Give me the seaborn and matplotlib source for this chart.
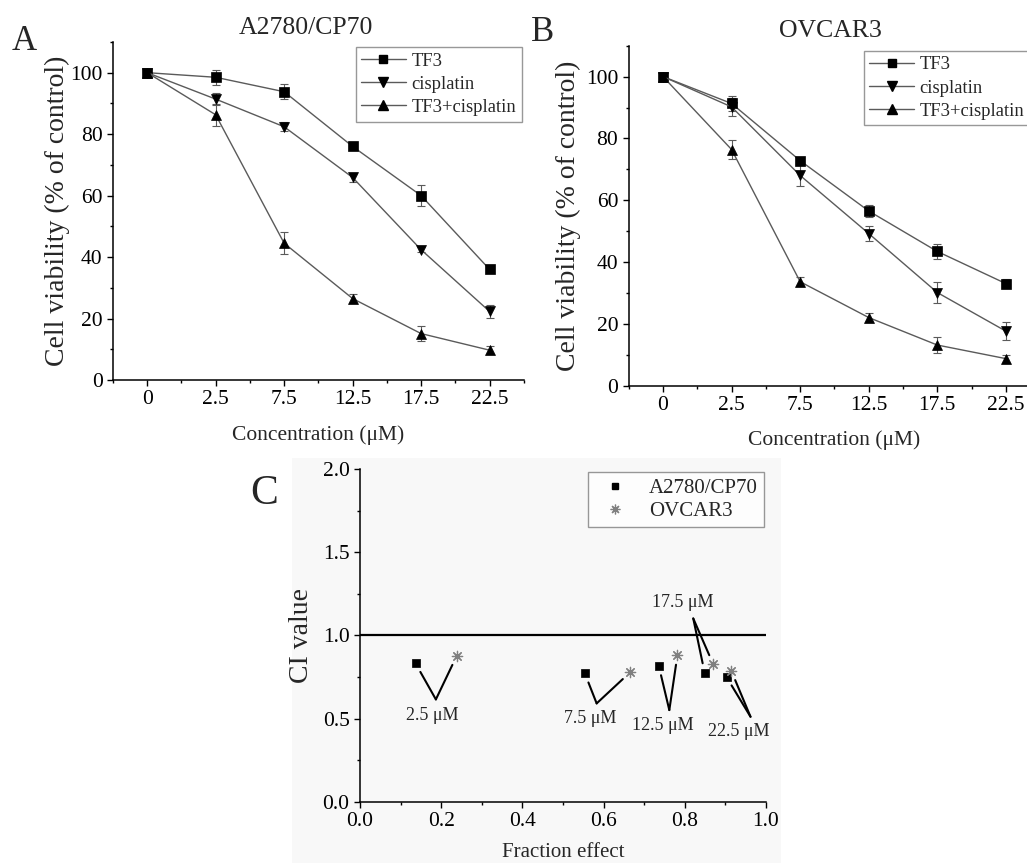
import numpy as np
import pandas as pd
import matplotlib
matplotlib.use("Agg")
import matplotlib.pyplot as plt
from matplotlib.patches import Rectangle
from matplotlib.ticker import MultipleLocator
from matplotlib.lines import Line2D
import seaborn as sns

# x categories (uM) and treatments
concentrations = ["0", "2.5", "7.5", "12.5", "17.5", "22.5"]
treatments = ["TF3", "cisplatin", "TF3+cisplatin"]

# A2780/CP70 viability (% of control) and error bars
a2780_tf3 = [100, 98.5, 93.8, 76.0, 60.0, 36.0]
a2780_tf3_err = [0.8, 2.5, 2.5, 0.8, 3.5, 0.8]
a2780_cis = [100, 91.4, 82.4, 65.9, 42.4, 22.3]
a2780_cis_err = [0.8, 2.0, 1.5, 1.5, 0.8, 2.0]
a2780_combo = [100, 86.3, 44.5, 26.5, 15.1, 9.7]
a2780_combo_err = [0.8, 3.5, 3.5, 1.5, 2.5, 1.3]

# OVCAR3 viability (% of control) and error bars
ovcar3_tf3 = [100, 91.3, 72.8, 56.5, 43.4, 33.0]
ovcar3_tf3_err = [0.8, 2.5, 1.0, 2.0, 2.3, 1.5]
ovcar3_cis = [100, 90.2, 68.0, 49.2, 30.1, 17.6]
ovcar3_cis_err = [0.8, 3.0, 3.5, 2.5, 3.5, 3.0]
ovcar3_combo = [100, 76.4, 33.6, 22.0, 13.1, 8.7]
ovcar3_combo_err = [0.8, 3.0, 1.5, 1.5, 2.5, 1.3]

# combination index vs fraction affected
ci_labels = ["2.5 μM", "7.5 μM", "12.5 μM", "17.5 μM", "22.5 μM"]
a2780_fa = [0.137, 0.554, 0.736, 0.849, 0.903]
a2780_ci = [0.832, 0.772, 0.818, 0.776, 0.750]
ovcar3_fa = [0.238, 0.665, 0.782, 0.870, 0.915]
ovcar3_ci = [0.876, 0.778, 0.882, 0.828, 0.786]

# where each concentration label sits (text centre, line vertex)
label_text_pos = [(0.179, 0.522), (0.568, 0.502), (0.747, 0.462), (0.795, 1.196), (0.934, 0.422)]
label_vertex_pos = [(0.187, 0.616), (0.583, 0.592), (0.762, 0.552), (0.821, 1.102), (0.962, 0.512)]

sns.set_style("ticks")
plt.rcParams["font.family"] = ["Liberation Serif", "DejaVu Serif"]

LINE_GRAY = "#5a5a5a"
marker_map = {"TF3": "s", "cisplatin": "v", "TF3+cisplatin": "^"}
marker_size = {"TF3": 5.5, "cisplatin": 6.5, "TF3+cisplatin": 6.5}


def style_axis(ax):
    for side in ["top", "right"]:
        ax.spines[side].set_visible(False)
    for side in ["left", "bottom"]:
        ax.spines[side].set_linewidth(1.1)
        ax.spines[side].set_color("black")
    ax.tick_params(which="major", direction="out", length=4.5, width=1.0, colors="black",
                   labelsize=15.5, pad=3)
    ax.tick_params(which="minor", direction="out", length=2.5, width=1.0, colors="black")


def draw_viability(ax, series, errors, title, title_x, legend_x):
    rows = []
    for name, vals in zip(treatments, series):
        for i, v in enumerate(vals):
            rows.append({"pos": i, "viability": v, "treatment": name})
    df = pd.DataFrame(rows)

    for name, errs in zip(treatments, errors):
        sub = df[df["treatment"] == name]
        ax.errorbar(sub["pos"], sub["viability"], yerr=errs, fmt="none",
                    ecolor=LINE_GRAY, elinewidth=0.8, capsize=3, capthick=0.8, zorder=2)

    sns.lineplot(data=df, x="pos", y="viability", hue="treatment", style="treatment",
                 hue_order=treatments, style_order=treatments,
                 palette={t: LINE_GRAY for t in treatments}, markers=marker_map,
                 dashes=False, linewidth=1.0, markersize=6.5, markerfacecolor="black",
                 markeredgecolor="black", markeredgewidth=0.5, errorbar=None,
                 legend=False, ax=ax, zorder=3)

    handles = [Line2D([], [], color=LINE_GRAY, lw=1.0, marker=marker_map[t],
                      markersize=marker_size[t], markerfacecolor="black",
                      markeredgecolor="black") for t in treatments]
    leg = ax.legend(handles, treatments, loc="upper right", bbox_to_anchor=(legend_x, 0.985),
                    fontsize=13.4, frameon=True, fancybox=False, edgecolor="#7f7f7f",
                    handlelength=2.4, handletextpad=0.3, borderpad=0.3,
                    labelspacing=0.33, borderaxespad=0)
    leg.get_frame().set_linewidth(1.0)

    ax.set_xlim(-0.5, len(concentrations) - 0.5)
    ax.set_ylim(0, 110)
    ax.set_xticks(range(len(concentrations)))
    ax.set_xticklabels(concentrations)
    ax.xaxis.set_minor_locator(MultipleLocator(0.5))
    ax.yaxis.set_major_locator(MultipleLocator(20))
    ax.yaxis.set_minor_locator(MultipleLocator(10))
    style_axis(ax)

    ax.set_title(title, fontsize=18.5, x=title_x, pad=6)
    ax.set_xlabel("Concentration (μM)", fontsize=15.5)
    ax.set_ylabel("Cell viability (% of control)", fontsize=20)


fig = plt.figure(figsize=(10.27, 8.63), dpi=100)

# light backdrop behind panel C
fig.patches.append(Rectangle((292 / 1027, 0), (781 - 292) / 1027, 1 - 458 / 863,
                             transform=fig.transFigure, facecolor="#f8f8f8",
                             edgecolor="none", zorder=-10))

ax_a = fig.add_axes([0.110, 0.5597, 0.400, 0.3917])
ax_b = fig.add_axes([0.6122, 0.5533, 0.4006, 0.3937])
ax_c = fig.add_axes([0.3505, 0.0707, 0.3953, 0.3859])
for ax in (ax_a, ax_b, ax_c):
    ax.set_facecolor("none")
    ax.set_zorder(2)

draw_viability(ax_a, [a2780_tf3, a2780_cis, a2780_combo],
               [a2780_tf3_err, a2780_cis_err, a2780_combo_err], "A2780/CP70", 0.47, 0.995)
draw_viability(ax_b, [ovcar3_tf3, ovcar3_cis, ovcar3_combo],
               [ovcar3_tf3_err, ovcar3_cis_err, ovcar3_combo_err], "OVCAR3", 0.49, 0.975)

ax_a.xaxis.set_label_coords(0.5, -0.133)
ax_b.xaxis.set_label_coords(0.5, -0.131)
ax_a.yaxis.set_label_coords(-0.136, 0.5)
ax_b.yaxis.set_label_coords(-0.1475, 0.5)
for ax in (ax_a, ax_b):
    ax.yaxis.label.set_va("center")

# panel C: combination index
ci_df = pd.DataFrame({
    "fa": a2780_fa + ovcar3_fa,
    "ci": a2780_ci + ovcar3_ci,
    "cell": ["A2780/CP70"] * len(a2780_fa) + ["OVCAR3"] * len(ovcar3_fa),
})
ax_c.axhline(1.0, xmin=0, xmax=1, color="black", lw=1.6, zorder=1)
sns.scatterplot(data=ci_df[ci_df["cell"] == "A2780/CP70"], x="fa", y="ci", marker="s",
                s=40, color="black", edgecolor="black", linewidth=0.5, ax=ax_c,
                legend=False, zorder=3)
sns.scatterplot(data=ci_df[ci_df["cell"] == "OVCAR3"], x="fa", y="ci", marker=(8, 2, 0),
                s=55, color="#808080", linewidth=0.9, ax=ax_c, legend=False, zorder=3)

for i, lab in enumerate(ci_labels):
    tx, ty = label_text_pos[i]
    vx, vy = label_vertex_pos[i]
    ax_c.text(tx, ty, lab, fontsize=13, ha="center", va="center", zorder=4)
    for px, py in [(a2780_fa[i], a2780_ci[i]), (ovcar3_fa[i], ovcar3_ci[i])]:
        ax_c.annotate("", xy=(px, py), xytext=(vx, vy),
                      arrowprops=dict(arrowstyle="-", color="black", lw=1.5,
                                      shrinkA=0, shrinkB=7), zorder=4)

c_handles = [
    Line2D([], [], ls="none", marker="s", markersize=5, color="black"),
    Line2D([], [], ls="none", marker=(8, 2, 0), markersize=7, color="#808080",
           markeredgewidth=0.9),
]
leg_c = ax_c.legend(c_handles, ["A2780/CP70", "OVCAR3"], loc="upper right",
                    bbox_to_anchor=(0.995, 0.99), fontsize=15, frameon=True,
                    fancybox=False, edgecolor="#7f7f7f", handlelength=2.0,
                    handletextpad=0.6, borderpad=0.3, labelspacing=0.15,
                    borderaxespad=0)
leg_c.get_frame().set_linewidth(1.0)

ax_c.set_xlim(0, 1.0)
ax_c.set_ylim(0, 2.0)
ax_c.xaxis.set_major_locator(MultipleLocator(0.2))
ax_c.xaxis.set_minor_locator(MultipleLocator(0.1))
ax_c.yaxis.set_major_locator(MultipleLocator(0.5))
ax_c.yaxis.set_minor_locator(MultipleLocator(0.25))
ax_c.xaxis.set_major_formatter(plt.FormatStrFormatter("%.1f"))
ax_c.yaxis.set_major_formatter(plt.FormatStrFormatter("%.1f"))
style_axis(ax_c)
ax_c.tick_params(which="major", labelsize=15.5)
ax_c.set_xlabel("Fraction effect", fontsize=15)
ax_c.set_ylabel("CI value", fontsize=20)
ax_c.xaxis.set_label_coords(0.5, -0.124)
ax_c.yaxis.set_label_coords(-0.143, 0.5)
ax_c.yaxis.label.set_va("center")

# panel letters
fig.text(12 / 1027, 1 - 50 / 863, "A", fontsize=25, va="baseline")
fig.text(531 / 1027, 1 - 41 / 863, "B", fontsize=25, va="baseline")
fig.text(250 / 1027, 1 - 504 / 863, "C", fontsize=30, va="baseline")

fig.savefig("out.png", dpi=100)
